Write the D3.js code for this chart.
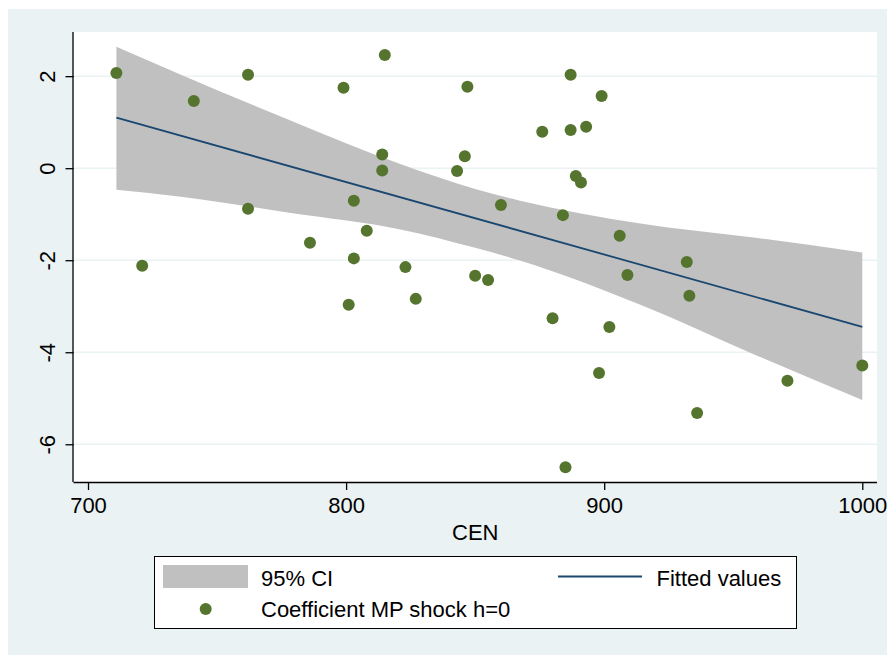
<!DOCTYPE html>
<html lang="en">
<head>
<meta charset="UTF-8">
<title>Coefficient vs CEN</title>
<script src="https://d3js.org/d3.v7.min.js"></script>
<style>
  body { margin: 0; background: #fff; }
  text { font-family: "Liberation Sans", Arial, sans-serif; fill: #000; }
</style>
</head>
<body>
<div id="chart"></div>
<script>

// scatter points (CEN, coefficient of MP shock at h=0)
var cen  = [711, 721, 741, 762, 762, 786, 799, 801, 803, 803, 808, 814, 814, 815, 823, 827,
            843, 846, 847, 850, 855, 860, 876, 880, 884, 885, 887, 887, 889, 891, 893, 898,
            899, 902, 906, 909, 932, 933, 936, 971, 1000];
var coef = [2.07, -2.12, 1.46, 2.03, -0.88, -1.62, 1.75, -2.97, -0.71, -1.96, -1.36, 0.30, -0.05, 2.46, -2.15, -2.84,
            -0.06, 0.26, 1.77, -2.34, -2.43, -0.80, 0.79, -3.26, -1.02, -6.50, 2.03, 0.83, -0.17, -0.31, 0.90, -4.45,
            1.57, -3.45, -1.47, -2.32, -2.04, -2.77, -5.32, -4.62, -4.29];

// fitted line end points
var fitX = [711, 1000];
var fitY = [1.10, -3.45];

var ciX  = [711, 736, 778, 821, 850, 867, 914, 957, 1000];
var ciHi = [2.64, 2.03, 1.05, 0.09, -0.45, -0.70, -1.20, -1.50, -1.83];
var ciLo = [-0.47, -0.62, -0.97, -1.33, -1.73, -2.00, -2.97, -4.02, -5.04];

var xTicks = [700, 800, 900, 1000];
var yTicks = [-6, -4, -2, 0, 2];

var W = 887, H = 655;
var bg = "#EAF2F3", dotColor = "#55752F", lineColor = "#1A476F", bandColor = "#C0C0C0";

var svg = d3.select("#chart").append("svg")
    .attr("width", W)
    .attr("height", H);

// outer background
svg.append("rect")
    .attr("x", 8).attr("y", 9)
    .attr("width", W - 8).attr("height", H - 9)
    .attr("fill", bg);

var plot = {left: 73.5, right: 877, top: 32, bottom: 482};

var x = d3.scaleLinear()
    .domain([694.38, 1005.7])
    .range([plot.left, plot.right]);

var y = d3.scaleLinear()
    .domain([-6.82, 2.96])
    .range([plot.bottom, plot.top]);

// plot region
svg.append("rect")
    .attr("x", plot.left).attr("y", plot.top)
    .attr("width", plot.right - plot.left)
    .attr("height", plot.bottom - plot.top)
    .attr("fill", "#fff");

// grid lines
svg.append("g").selectAll("line")
    .data(yTicks)
    .enter().append("line")
      .attr("x1", plot.left).attr("x2", plot.right)
      .attr("y1", function(d) { return y(d); })
      .attr("y2", function(d) { return y(d); })
      .attr("stroke", bg)
      .attr("stroke-width", 1.5);

// CI band
var band = ciX.map(function(v, i) { return {x: v, lo: ciLo[i], hi: ciHi[i]}; });
svg.append("path")
    .datum(band)
    .attr("fill", bandColor)
    .attr("d", d3.area()
      .curve(d3.curveMonotoneX)
      .x(function(d) { return x(d.x); })
      .y0(function(d) { return y(d.lo); })
      .y1(function(d) { return y(d.hi); }));

// fitted line
svg.append("path")
    .datum(fitX.map(function(v, i) { return [v, fitY[i]]; }))
    .attr("fill", "none")
    .attr("stroke", lineColor)
    .attr("stroke-width", 1.8)
    .attr("d", d3.line()
      .x(function(d) { return x(d[0]); })
      .y(function(d) { return y(d[1]); }));

// dots
svg.append("g").selectAll("circle")
    .data(cen.map(function(v, i) { return [v, coef[i]]; }))
    .enter().append("circle")
      .attr("cx", function(d) { return x(d[0]); })
      .attr("cy", function(d) { return y(d[1]); })
      .attr("r", 6)
      .attr("fill", dotColor);

// plain hyphen for negatives, as in the original
var fmt = function(d) { return String(d); };

// X axis
var xAxis = svg.append("g")
    .attr("transform", "translate(0," + plot.bottom + ")")
    .call(d3.axisBottom(x).tickValues(xTicks).tickSize(8).tickPadding(6).tickFormat(fmt));
xAxis.select(".domain").attr("d", "M" + plot.left + ",0.5H" + plot.right).attr("stroke-width", 1.3);
xAxis.selectAll(".tick line").attr("stroke-width", 1.3);
xAxis.selectAll("text").style("font-size", "22px").attr("dy", "0.78em");

// Y axis
var yAxis = svg.append("g")
    .attr("transform", "translate(" + plot.left + ",0)")
    .call(d3.axisLeft(y).tickValues(yTicks).tickSize(8).tickFormat(fmt));
yAxis.select(".domain").attr("d", "M-0.5," + plot.top + "V" + plot.bottom).attr("stroke-width", 1.3);
yAxis.selectAll(".tick line").attr("stroke-width", 1.3);
yAxis.selectAll("text")
    .style("font-size", "22px")
    .attr("x", null).attr("dy", null)
    .attr("text-anchor", "middle")
    .attr("transform", "translate(-18.5,0) rotate(-90)");

// X axis title
svg.append("text")
    .attr("x", (plot.left + plot.right) / 2)
    .attr("y", 540)
    .attr("text-anchor", "middle")
    .style("font-size", "22px")
    .text("CEN");

// legend
var lg = svg.append("g");
lg.append("rect")
    .attr("x", 154.5).attr("y", 556.5)
    .attr("width", 642).attr("height", 72)
    .attr("fill", "#fff")
    .attr("stroke", "#000")
    .attr("stroke-width", 1);
lg.append("rect")
    .attr("x", 163).attr("y", 565)
    .attr("width", 85).attr("height", 23)
    .attr("fill", bandColor);
lg.append("text")
    .attr("x", 261).attr("y", 585.5)
    .style("font-size", "22px")
    .text("95% CI");
lg.append("line")
    .attr("x1", 558).attr("x2", 642)
    .attr("y1", 576.5).attr("y2", 576.5)
    .attr("stroke", lineColor)
    .attr("stroke-width", 1.8);
lg.append("text")
    .attr("x", 656.5).attr("y", 585.5)
    .style("font-size", "22px")
    .text("Fitted values");
lg.append("circle")
    .attr("cx", 205.7).attr("cy", 609)
    .attr("r", 6)
    .attr("fill", dotColor);
lg.append("text")
    .attr("x", 261).attr("y", 616.7)
    .style("font-size", "22px")
    .text("Coefficient MP shock h=0");

</script>
</body>
</html>
